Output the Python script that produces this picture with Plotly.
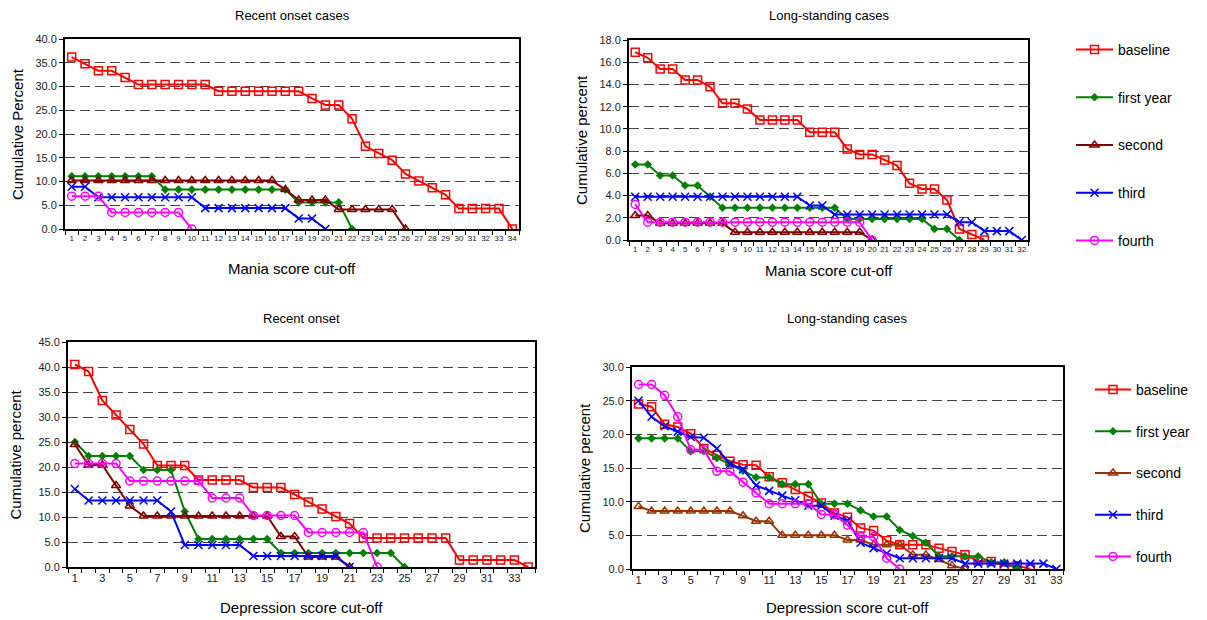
import plotly.graph_objects as go

W, H = 1207, 620
OFF = 8  # browser body margin
FW, FH = W - OFF, H - OFF

series_names = ["baseline", "first year", "second", "third", "fourth"]

# Panel 1: Recent onset cases, mania
mania_recent_baseline = [36.2, 34.8, 33.3, 33.3, 31.9, 30.4, 30.4, 30.4, 30.4, 30.4, 30.4, 29.0, 29.0, 29.0, 29.0, 29.0, 29.0, 29.0, 27.5, 26.1, 26.1, 23.2, 17.4, 15.9, 14.5, 11.6, 10.1, 8.7, 7.2, 4.3, 4.3, 4.3, 4.3, 0.0]
mania_recent_first = [11.1, 11.1, 11.1, 11.1, 11.1, 11.1, 11.1, 8.3, 8.3, 8.3, 8.3, 8.3, 8.3, 8.3, 8.3, 8.3, 8.3, 5.6, 5.6, 5.6, 5.6, 0.0]
mania_recent_second = [10.2, 10.2, 10.2, 10.2, 10.2, 10.2, 10.2, 10.2, 10.2, 10.2, 10.2, 10.2, 10.2, 10.2, 10.2, 10.2, 8.3, 6.1, 6.1, 6.1, 4.1, 4.1, 4.1, 4.1, 4.1, 0.0]
mania_recent_third = [8.9, 8.9, 6.7, 6.7, 6.7, 6.7, 6.7, 6.7, 6.7, 6.7, 4.4, 4.4, 4.4, 4.4, 4.4, 4.4, 4.4, 2.2, 2.2, 0.0]
mania_recent_fourth = [6.9, 6.9, 6.9, 3.5, 3.5, 3.5, 3.5, 3.5, 3.5, 0.0]

# Panel 2: Long-standing cases, mania
mania_long_baseline = [16.9, 16.4, 15.4, 15.4, 14.4, 14.4, 13.8, 12.3, 12.3, 11.8, 10.8, 10.8, 10.8, 10.8, 9.7, 9.7, 9.7, 8.2, 7.7, 7.7, 7.2, 6.7, 5.1, 4.6, 4.6, 3.6, 1.0, 0.5, 0.0]
mania_long_first = [6.8, 6.8, 5.8, 5.8, 4.9, 4.9, 3.9, 2.9, 2.9, 2.9, 2.9, 2.9, 2.9, 2.9, 2.9, 2.9, 2.9, 1.9, 1.9, 1.9, 1.9, 1.9, 1.9, 1.9, 1.0, 1.0, 0.0]
mania_long_second = [2.2, 2.2, 1.5, 1.5, 1.5, 1.5, 1.5, 1.5, 0.7, 0.7, 0.7, 0.7, 0.7, 0.7, 0.7, 0.7, 0.7, 0.7, 0.7, 0.0]
mania_long_third = [3.9, 3.9, 3.9, 3.9, 3.9, 3.9, 3.9, 3.9, 3.9, 3.9, 3.9, 3.9, 3.9, 3.9, 3.1, 3.1, 2.3, 2.3, 2.3, 2.3, 2.3, 2.3, 2.3, 2.3, 2.3, 2.3, 1.6, 1.6, 0.8, 0.8, 0.8, 0.0]
mania_long_fourth = [3.2, 1.6, 1.6, 1.6, 1.6, 1.6, 1.6, 1.6, 1.6, 1.6, 1.6, 1.6, 1.6, 1.6, 1.6, 1.6, 1.6, 1.6, 1.6, 0.0]

# Panel 3: Recent onset, depression
dep_recent_baseline = [40.5, 39.1, 33.3, 30.4, 27.5, 24.6, 20.3, 20.3, 20.3, 17.4, 17.4, 17.4, 17.4, 15.9, 15.9, 15.9, 14.5, 13.0, 11.6, 10.1, 8.7, 5.8, 5.8, 5.8, 5.8, 5.8, 5.8, 5.8, 1.4, 1.4, 1.4, 1.4, 1.4, 0.0]
dep_recent_first = [25.0, 22.2, 22.2, 22.2, 22.2, 19.4, 19.4, 19.4, 11.1, 5.6, 5.6, 5.6, 5.6, 5.6, 5.6, 2.8, 2.8, 2.8, 2.8, 2.8, 2.8, 2.8, 2.8, 2.8, 0.0]
dep_recent_second = [24.5, 20.4, 20.4, 16.3, 12.2, 10.2, 10.2, 10.2, 10.2, 10.2, 10.2, 10.2, 10.2, 10.2, 10.2, 6.1, 6.1, 2.0, 2.0, 2.0, 0.0]
dep_recent_third = [15.6, 13.3, 13.3, 13.3, 13.3, 13.3, 13.3, 11.1, 4.4, 4.4, 4.4, 4.4, 4.4, 2.2, 2.2, 2.2, 2.2, 2.2, 2.2, 2.2, 0.0]
dep_recent_fourth = [20.7, 20.7, 20.7, 20.7, 17.2, 17.2, 17.2, 17.2, 17.2, 17.2, 13.8, 13.8, 13.8, 10.3, 10.3, 10.3, 10.3, 6.9, 6.9, 6.9, 6.9, 6.9, 0.0]

# Panel 4: Long-standing cases, depression
dep_long_baseline = [24.5, 24.1, 21.5, 21.1, 20.1, 17.9, 16.9, 16.0, 15.5, 15.4, 13.7, 12.8, 11.8, 10.8, 9.8, 8.3, 7.7, 6.1, 5.7, 4.2, 3.6, 3.6, 3.6, 3.1, 2.6, 2.1, 1.2, 1.1, 0.5, 0.5, 0.0]
dep_long_first = [19.4, 19.4, 19.4, 19.4, 17.5, 17.5, 16.5, 15.5, 14.6, 13.6, 13.6, 12.6, 12.6, 12.6, 9.7, 9.7, 9.7, 8.7, 7.8, 7.8, 5.8, 4.9, 3.9, 1.9, 1.9, 1.9, 1.9, 1.0, 1.0, 0.0]
dep_long_second = [9.3, 8.6, 8.6, 8.6, 8.6, 8.6, 8.6, 8.6, 7.9, 7.1, 7.1, 5.0, 5.0, 5.0, 5.0, 5.0, 4.3, 4.3, 3.6, 3.6, 3.6, 2.1, 2.1, 1.4, 0.5, 0.0]
dep_long_third = [25.0, 22.6, 21.2, 20.4, 19.6, 19.5, 17.9, 15.6, 14.8, 12.4, 11.6, 10.9, 10.2, 9.4, 9.4, 7.9, 7.2, 3.9, 3.1, 2.3, 1.6, 1.6, 1.6, 1.6, 1.6, 0.8, 0.8, 0.8, 0.8, 0.8, 0.8, 0.8, 0.0]
dep_long_fourth = [27.4, 27.4, 25.8, 22.6, 17.7, 17.7, 14.5, 14.5, 12.9, 11.3, 9.7, 9.7, 9.7, 9.7, 8.1, 8.1, 6.5, 4.8, 4.8, 1.6, 0.0]

panel_titles = ["Recent onset cases", "Long-standing cases", "Recent onset", "Long-standing cases"]
x_titles = ["Mania score cut-off", "Mania score cut-off", "Depression score cut-off", "Depression score cut-off"]
y_titles = ["Cumulative Percent", "Cumulative percent", "Cumulative percent", "Cumulative percent"]
n_categories = [34, 32, 34, 33]
y_max = [40, 18, 45, 30]
y_step = [5, 2, 5, 5]

FONT = "Liberation Sans, Arial, sans-serif"

# pixel boxes of plot areas in the page: (left, top, right, bottom)
boxes = [(65, 39, 519, 229), (629, 40, 1028, 240), (68, 342, 535, 567), (632, 367, 1063, 569)]

panels = [
    [mania_recent_baseline, mania_recent_first, mania_recent_second, mania_recent_third, mania_recent_fourth],
    [mania_long_baseline, mania_long_first, mania_long_second, mania_long_third, mania_long_fourth],
    [dep_recent_baseline, dep_recent_first, dep_recent_second, dep_recent_third, dep_recent_fourth],
    [dep_long_baseline, dep_long_first, dep_long_second, dep_long_third, dep_long_fourth],
]

colors_top = ["#FF0000", "#008000", "#800000", "#0000FF", "#FF00FF"]
colors_bottom_right = ["#FF0000", "#008000", "#993300", "#0000FF", "#FF00FF"]
symbols = ["square-open", "diamond", "triangle-up-open", "x-thin-open", "circle-open"]
msizes = [8, 5, 8, 8, 8]

fig = go.Figure()

def px2x(px):
    return (px - OFF) / FW

def px2y(py):
    return 1 - (py - OFF) / FH

layout = dict(
    template="none",
    width=FW, height=FH, margin=dict(l=0, r=0, t=0, b=0, autoexpand=False),
    paper_bgcolor="white", plot_bgcolor="white",
    font=dict(family=FONT, color="black"),
    annotations=[],
)

for p in range(4):
    l, t, r, b = boxes[p]
    n = n_categories[p]
    sfx = "" if p == 0 else str(p + 1)
    xa = "xaxis" + sfx
    ya = "yaxis" + sfx
    cols = colors_bottom_right if p == 3 else colors_top
    if p < 2:
        tickvals = list(range(1, n + 1))
        xtickfont = 8
    else:
        tickvals = list(range(1, n + 1, 2))
        xtickfont = 11
    layout[xa] = dict(
        domain=[px2x(l), px2x(r)], anchor="y" + sfx, automargin=False,
        range=[0.5, n + 0.5], tickmode="array", tickvals=tickvals,
        ticktext=[str(v) for v in tickvals], ticks="",
        tickfont=dict(size=xtickfont, family=FONT, color="#222"),
        showgrid=False, zeroline=False,
        showline=True, linecolor="black", linewidth=2, mirror=True,
        minor=dict(tickmode="linear", tick0=0.5, dtick=1, ticks="outside", ticklen=4,
                   tickcolor="black", tickwidth=1, showgrid=False),
    )
    layout[ya] = dict(
        domain=[px2y(b), px2y(t)], anchor="x" + sfx, automargin=False,
        range=[0, y_max[p]], tickmode="linear", tick0=0, dtick=y_step[p],
        tickformat=".1f", ticks="outside", ticklen=4, tickcolor="black",
        tickfont=dict(size=11, family=FONT, color="#222"),
        showgrid=True, gridcolor="#444", griddash="10px,5px", gridwidth=1,
        zeroline=False, showline=True, linecolor="black", linewidth=2, mirror=True,
    )
    legend_name = "legend" if p < 2 else "legend2"
    for i, vals in enumerate(panels[p]):
        xs = list(range(1, len(vals) + 1))
        show = p in (1, 3)
        fig.add_trace(go.Scatter(
            x=xs, y=vals, mode="lines+markers", name=series_names[i],
            xaxis="x" + sfx, yaxis="y" + sfx,
            line=dict(color=cols[i], width=2),
            marker=dict(symbol=symbols[i], size=msizes[i], color=cols[i],
                        line=dict(color=cols[i], width=1.5)),
            showlegend=show, legend=legend_name,
            legendgroup=("top_" if p < 2 else "bot_") + series_names[i],
        ))
    cx = (l + r) / 2
    title_y = 16 if p < 2 else 318
    layout["annotations"].append(dict(
        x=px2x(cx), y=px2y(title_y), xref="paper", yref="paper", text=panel_titles[p],
        showarrow=False, xanchor="center", yanchor="middle",
        font=dict(size=13, family=FONT, color="black")))
    xt_y = {0: 268, 1: 270, 2: 607, 3: 607}[p]
    layout["annotations"].append(dict(
        x=px2x(cx), y=px2y(xt_y), xref="paper", yref="paper", text=x_titles[p],
        showarrow=False, xanchor="center", yanchor="middle",
        font=dict(size=15, family=FONT, color="black")))
    yt_x = {0: 18, 1: 581, 2: 15, 3: 584}[p]
    layout["annotations"].append(dict(
        x=px2x(yt_x), y=px2y((t + b) / 2), xref="paper", yref="paper", text=y_titles[p],
        showarrow=False, xanchor="center", yanchor="middle", textangle=-90,
        font=dict(size=15, family=FONT, color="black")))

layout["legend"] = dict(
    x=px2x(1071), y=px2y(34), xanchor="left", yanchor="top",
    font=dict(size=14, family=FONT, color="black"),
    tracegroupgap=26.5, bgcolor="rgba(0,0,0,0)", itemwidth=37,
)
layout["legend2"] = dict(
    x=px2x(1090), y=px2y(374), xanchor="left", yanchor="top",
    font=dict(size=14, family=FONT, color="black"),
    tracegroupgap=20.5, bgcolor="rgba(0,0,0,0)", itemwidth=36,
)

fig.update_layout(**layout)
fig.write_html("out.html")
